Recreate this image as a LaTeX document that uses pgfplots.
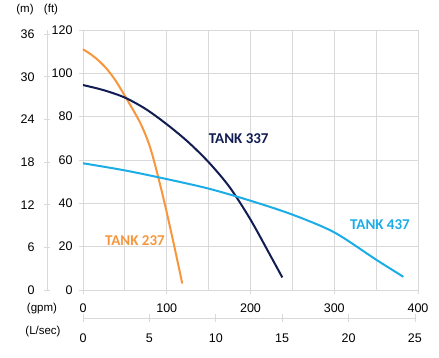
\documentclass[border=0pt]{standalone}
\usepackage{pgfplots}
\pgfplotsset{compat=1.18}
\usepackage{fontspec}
\setmainfont{Liberation Sans}
\newfontfamily\calibri{Carlito}
\definecolor{c237}{HTML}{F7963C}
\definecolor{c337}{HTML}{111C52}
\definecolor{c437}{HTML}{1CADE6}
\definecolor{gridc}{HTML}{D9D9D9}
\begin{document}
\begin{tikzpicture}
\useasboundingbox (-83pt,-67pt) rectangle (356pt,290pt);
% m axis
\begin{axis}[at={(-36pt,0pt)}, anchor=south west, scale only axis,
  width=335pt, height=260pt, xmin=0, xmax=1, ymin=0, ymax=36.576,
  hide x axis, axis y line*=left, axis line style={-, draw=gridc, line width=0.8pt},
  ytick={0,6,...,36}, tick align=center, major tick length=6pt,
  tick style={draw=gridc, line width=0.8pt},
  /pgf/number format/assume math mode=true,
  yticklabel style={font=\fontsize{12.5}{14}\selectfont, xshift=-6pt}]
\end{axis}
% L/sec axis
\begin{axis}[at={(0pt,-28pt)}, anchor=south west, scale only axis,
  width=331.9pt, height=20pt, xmin=0, xmax=25, ymin=0, ymax=1,
  hide y axis, axis x line*=bottom, axis line style={-, draw=gridc, line width=0.8pt},
  xtick={0,5,...,25}, tick align=center, major tick length=8pt,
  tick style={draw=gridc, line width=0.8pt},
  /pgf/number format/assume math mode=true,
  xticklabel style={font=\fontsize{12.5}{14}\selectfont, yshift=-8pt}]
\end{axis}
% main axis
\begin{axis}[at={(0pt,0pt)}, anchor=south west, scale only axis,
  width=335pt, height=260pt, xmin=0, xmax=400, ymin=0, ymax=120,
  axis x line*=bottom, axis y line*=left,
  axis line style={-, draw=gridc, line width=0.8pt},
  xtick={0,100,...,400}, minor xtick={50,150,250,350}, ytick={0,20,...,120},
  grid=both, major grid style={draw=gridc, line width=0.8pt},
  minor grid style={draw=gridc, line width=0.8pt},
  tick align=outside, major tick length=4pt, minor tick length=0pt,
  tick style={draw=gridc, line width=0.8pt},
  /pgf/number format/assume math mode=true,
  xticklabel style={font=\fontsize{12.5}{14}\selectfont, yshift=-6pt},
  yticklabel style={font=\fontsize{12.5}{14}\selectfont, xshift=-3pt},
  clip=false]
\addplot[c237, line width=2pt, smooth] coordinates {
(0,111.1) (10,108.6) (20,105.4) (30,101.3) (40,96) (50,89.6) (60,83.0) (65,79.6) (70,75.8) (75,71.3) (80,66.0) (85,59.3) (90,51.8) (95,44) (100,35.8) (105,27.2) (110,18.4) (115,9.4) (118.5,3)};
\addplot[c337, line width=2pt, smooth] coordinates {
(0,94.6) (25,92.2) (50,88.8) (75,83.5) (100,76.5) (125,68.5) (150,59) (175,47.5) (200,32.5) (225,15) (238,5.8)};
\addplot[c437, line width=2pt, smooth] coordinates {
(0,58.5) (50,55.2) (100,51.2) (150,46.8) (200,41.2) (250,34.8) (300,26.6) (350,14) (382.5,6.1)};
\node[c337, font=\calibri\bfseries\fontsize{15}{17}\selectfont] at (axis cs:186,69.7) {TANK 337};
\node[c237, font=\calibri\bfseries\fontsize{15}{17}\selectfont] at (axis cs:62,23) {TANK 237};
\node[c437, font=\calibri\bfseries\fontsize{15}{17}\selectfont] at (axis cs:354.6,30) {TANK 437};
\end{axis}
\node[font=\fontsize{11.5}{13}\selectfont] at (-58pt,280pt) {(m)};
\node[font=\fontsize{11.5}{13}\selectfont] at (-32pt,280pt) {(ft)};
\node[font=\fontsize{11.5}{13}\selectfont] at (-41pt,-19pt) {(gpm)};
\node[font=\fontsize{11.5}{13}\selectfont] at (-40pt,-42pt) {(L/sec)};
\end{tikzpicture}
\end{document}
